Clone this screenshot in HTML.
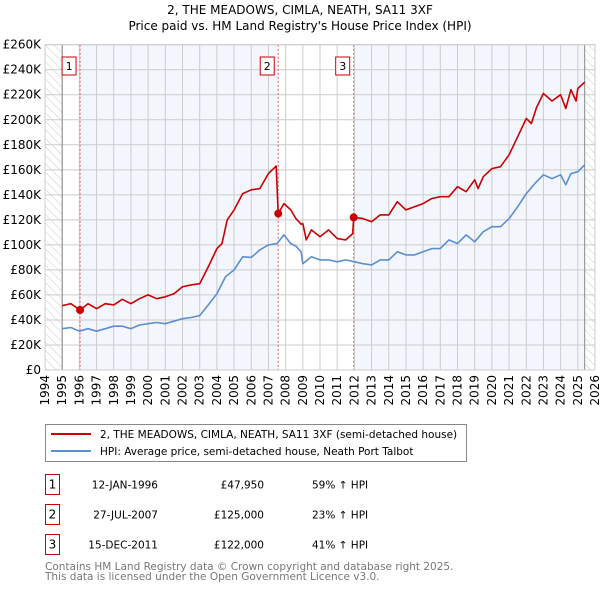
<!DOCTYPE html>
<html><head><meta charset="utf-8"><style>
body{margin:0;background:#fff;font-family:"DejaVu Sans","Liberation Sans",sans-serif;}
svg text{font-family:"DejaVu Sans","Liberation Sans",sans-serif;}
</style></head><body>
<svg id="c" width="600" height="590" viewBox="0 0 600 590" xmlns="http://www.w3.org/2000/svg">
<defs><pattern id="hatch" width="6" height="6" patternUnits="userSpaceOnUse" patternTransform="rotate(-45)"><line x1="0" y1="0" x2="0" y2="6" stroke="#ccc" stroke-width="1"/></pattern></defs>
<text x="300" y="14" text-anchor="middle" font-size="12">2, THE MEADOWS, CIMLA, NEATH, SA11 3XF</text>
<text x="300" y="30" text-anchor="middle" font-size="12">Price paid vs. HM Land Registry's House Price Index (HPI)</text>
<g id="plot"></g>
<g>
<rect x="45.5" y="424.5" width="421" height="37" fill="#fff" stroke="#888"/>
<line x1="51" y1="434" x2="91" y2="434" stroke="#cc0000" stroke-width="2"/>
<text x="100" y="438" font-size="10.5">2, THE MEADOWS, CIMLA, NEATH, SA11 3XF (semi-detached house)</text>
<line x1="51" y1="451" x2="91" y2="451" stroke="#5b8fd0" stroke-width="2"/>
<text x="100" y="455" font-size="10.5">HPI: Average price, semi-detached house, Neath Port Talbot</text>
</g>
<g id="table" font-size="10.5"></g>
<text x="45" y="570" font-size="10.5" fill="#777">Contains HM Land Registry data © Crown copyright and database right 2025.</text>
<text x="45" y="580" font-size="10.5" fill="#777">This data is licensed under the Open Government Licence v3.0.</text>
</svg>
<script>
const hpiYears=[1995,1995.5,1996,1996.5,1997,1997.5,1998,1998.5,1999,1999.5,2000,2000.5,2001,2001.5,2002,2002.5,2003,2003.5,2004,2004.5,2005,2005.5,2006,2006.5,2007,2007.5,2007.9,2008.3,2008.6,2008.9,2009,2009.5,2010,2010.5,2011,2011.5,2012,2012.5,2013,2013.5,2014,2014.5,2015,2015.5,2016,2016.5,2017,2017.5,2018,2018.5,2019,2019.5,2020,2020.5,2021,2021.5,2022,2022.5,2023,2023.5,2024,2024.3,2024.6,2025,2025.4];
const hpiValues=[33,34,31,33,31,33,35,35,33,36,37,38,37,39,41,42,43.5,52,61,74.5,80,90.5,90,96,100,101,108,101,99,94.5,85,90.5,88,88,86.5,88,86.5,85,84,88,88,94.5,92,92,94.5,97,97,104,101,108,102.5,110.5,114.5,114.5,121,130.5,141,149,156,153,156,148,157,158.5,164];
const priceYears=[1995,1995.5,1996.04,1996.5,1997,1997.5,1998,1998.5,1999,1999.5,2000,2000.5,2001,2001.5,2002,2002.5,2003,2003.5,2004,2004.3,2004.6,2005,2005.5,2006,2006.5,2007,2007.45,2007.57,2007.9,2008.3,2008.6,2008.9,2009,2009.2,2009.5,2010,2010.5,2011,2011.5,2011.9,2011.96,2012.5,2013,2013.5,2014,2014.5,2015,2015.5,2016,2016.5,2017,2017.5,2018,2018.5,2019,2019.2,2019.5,2020,2020.5,2021,2021.5,2022,2022.3,2022.6,2023,2023.5,2024,2024.3,2024.6,2024.9,2025,2025.4];
const priceValues=[51.5,53,47.95,53,49,53,52,56.5,53,57,60,57,58.5,61,66.5,68,69,82.5,97,101,120,128,141,144,145,157,163,125,133,128,121,116.5,117,104,112,106.5,112,105,104,109,122,121,118.5,124,124,134.5,128,130.5,133,137,138.5,138.5,146.5,142.5,152,145,154.5,161,162.5,172,186.5,201,197,210,221,215,220,209,224,215,225,230];
const saleYears=[1996.04,2007.57,2011.96];
const saleValues=[47.95,125,122];
const saleLabels=["1","2","3"];
const saleDates=["12-JAN-1996","27-JUL-2007","15-DEC-2011"];
const salePrices=["£47,950","£125,000","£122,000"];
const saleHpi=["59% ↑ HPI","23% ↑ HPI","41% ↑ HPI"];
const yTicks=[0,20,40,60,80,100,120,140,160,180,200,220,240,260];
const xTicks=[1994,1995,1996,1997,1998,1999,2000,2001,2002,2003,2004,2005,2006,2007,2008,2009,2010,2011,2012,2013,2014,2015,2016,2017,2018,2019,2020,2021,2022,2023,2024,2025,2026];
const NS="http://www.w3.org/2000/svg";
const X0=45,X1=595,Y0=370,Y1=44.7;
const xs=y=>X0+(y-1994)/32*(X1-X0);
const ys=v=>Y0-v/260*(Y0-Y1);
const g=document.getElementById('plot');
function mk(t,a,p){const e=document.createElementNS(NS,t);for(const k in a)e.setAttribute(k,a[k]);(p||g).appendChild(e);return e;}
let e;
e=mk('rect',{x:X0,y:Y1,width:X1-X0,height:Y0-Y1,fill:'#fff'});
e=mk('rect',{x:xs(saleYears[0]),y:Y1,width:xs(saleYears[1])-xs(saleYears[0]),height:Y0-Y1,fill:'#f3f6fd'});

e=mk('rect',{x:xs(saleYears[2]),y:Y1,width:xs(2025.4)-xs(saleYears[2]),height:Y0-Y1,fill:'#f3f6fd'});

e=mk('rect',{x:X0,y:Y1,width:xs(1995)-X0,height:Y0-Y1,fill:'url(#hatch)'});

e=mk('rect',{x:xs(2025.4),y:Y1,width:X1-xs(2025.4),height:Y0-Y1,fill:'url(#hatch)'});

yTicks.forEach(v=>{
 e=mk('line',{x1:X0,x2:X1,y1:ys(v),y2:ys(v),stroke:'#ccc','stroke-width':1});
 
 e=mk('text',{x:X0-4,y:ys(v)+4,'text-anchor':'end','font-size':12});
 e.textContent=v===0?'£0':'£'+v+'K';
 
});
xTicks.forEach(y=>{
 e=mk('line',{x1:xs(y),x2:xs(y),y1:Y1,y2:Y0,stroke:'#ccc','stroke-width':1});
 
 e=mk('text',{x:0,y:0,'font-size':12,'text-anchor':'end',transform:`translate(${xs(y)+4},375) rotate(-90)`});
 e.textContent=y;
 
});
e=mk('line',{x1:xs(1995),x2:xs(1995),y1:Y1,y2:Y0,stroke:'#888'});
e=mk('line',{x1:xs(2025.4),x2:xs(2025.4),y1:Y1,y2:Y0,stroke:'#888'});
saleYears.forEach((y,i)=>{
 e=mk('line',{x1:xs(y),x2:xs(y),y1:Y1,y2:Y0,stroke:'#e06060','stroke-dasharray':'2,2','stroke-width':1});
 
 e=mk('rect',{x:xs(y)-18,y:57,width:14,height:18,fill:'#fff',stroke:'#cc0000'});
 
 e=mk('text',{x:xs(y)-11,y:70,'text-anchor':'middle','font-size':11});e.textContent=saleLabels[i];
 
});
function line(yrs,vals,col,name){
 e=mk('polyline',{points:yrs.map((y,i)=>xs(y).toFixed(1)+','+ys(vals[i]).toFixed(1)).join(' '),fill:'none',stroke:col,'stroke-width':1.6,'stroke-linejoin':'round'});
 
}
line(hpiYears,hpiValues,'#5b8fd0','hpi-line');
line(priceYears,priceValues,'#cc0000','price-line');
saleYears.forEach((y,i)=>{
 e=mk('circle',{cx:xs(y),cy:ys(saleValues[i]),r:4,fill:'#cc0000'});
 
});
e=mk('rect',{x:X0,y:Y1,width:X1-X0,height:Y0-Y1,fill:'none',stroke:'#ccc'});
const t=document.getElementById('table');
saleLabels.forEach((l,i)=>{
 const cy=484.5+i*30;
 e=mk('rect',{x:45.5,y:cy-10,width:14,height:20,fill:'#fff',stroke:'#cc0000'},t);
 
 e=mk('text',{x:52.5,y:cy+4,'text-anchor':'middle','font-size':12},t);e.textContent=l;
 e=mk('text',{x:158,y:cy+4,'text-anchor':'end'},t);e.textContent=saleDates[i];
 
 e=mk('text',{x:264,y:cy+4,'text-anchor':'end'},t);e.textContent=salePrices[i];
 
 e=mk('text',{x:312,y:cy+4},t);e.textContent=saleHpi[i];
 
});
</script>
</body></html>
